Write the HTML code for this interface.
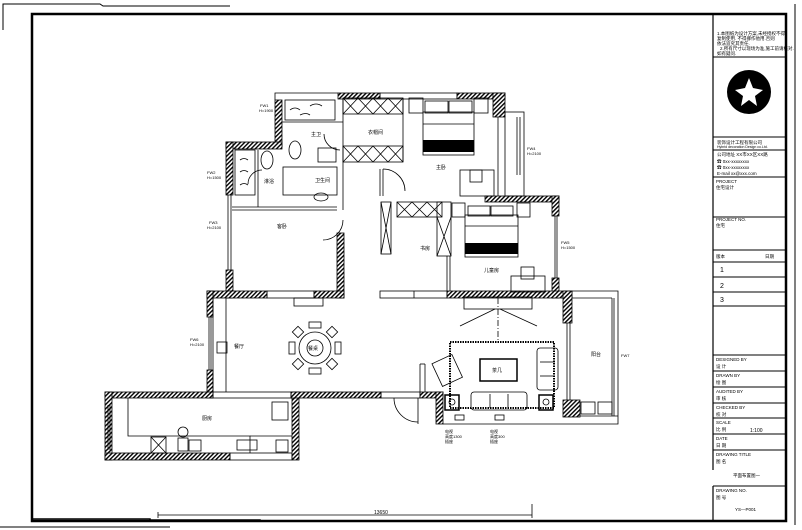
<!DOCTYPE html>
<html><head><meta charset="utf-8"><style>
html,body{margin:0;padding:0;background:#fff;}
svg{display:block}
text{font-family:"Liberation Sans","Noto Sans CJK SC",sans-serif;fill:#000}
</style></head><body>
<svg width="802" height="530" viewBox="0 0 802 530" xmlns="http://www.w3.org/2000/svg">
<defs>
<pattern id="h" width="3" height="3" patternUnits="userSpaceOnUse" patternTransform="rotate(45)">
<rect width="3" height="3" fill="#fff"/><rect width="1.4" height="3" fill="#000"/>
</pattern>
</defs>
<g fill="none" stroke="#000">
<!-- frames -->
<polyline points="3,30 3,4 100,4 103,6 230,6" stroke-width="1"/>
<rect x="32" y="14" width="754" height="507" stroke-width="2.5"/>
<line x1="0" y1="527" x2="170" y2="527" stroke-width="1"/>
<line x1="795" y1="4" x2="795" y2="525" stroke-width="1"/>
<!-- title block -->
<line x1="713" y1="14" x2="713" y2="470" stroke-width="1.2"/>
<line x1="713" y1="486" x2="713" y2="521" stroke-width="1.2"/>
<g stroke-width="1">
<line x1="713" y1="57" x2="786" y2="57"/>
<line x1="713" y1="137" x2="786" y2="137"/>
<line x1="713" y1="150" x2="786" y2="150"/>
<line x1="713" y1="177" x2="786" y2="177"/>
<line x1="713" y1="217" x2="786" y2="217"/>
<line x1="713" y1="250" x2="786" y2="250"/>
<line x1="713" y1="262" x2="786" y2="262"/>
<line x1="713" y1="277" x2="786" y2="277"/>
<line x1="713" y1="292" x2="786" y2="292"/>
<line x1="713" y1="306" x2="786" y2="306"/>
<line x1="713" y1="355" x2="786" y2="355"/>
<line x1="713" y1="371" x2="786" y2="371"/>
<line x1="713" y1="387" x2="786" y2="387"/>
<line x1="713" y1="403" x2="786" y2="403"/>
<line x1="713" y1="418" x2="786" y2="418"/>
<line x1="713" y1="434" x2="786" y2="434"/>
<line x1="713" y1="450" x2="786" y2="450"/>
<line x1="713" y1="486" x2="786" y2="486"/>
</g>
</g>
<!-- logo -->
<circle cx="749" cy="92" r="22" fill="#000"/>
<path d="M749,78 L753,88 L763,90 L755,96 L757,106 L749,100 L741,106 L743,96 L735,90 L745,88 Z" fill="#fff"/>
<g font-size="4.5">
<text x="717" y="35">1.本图纸为设计方案,未经授权不得</text>
<text x="717" y="40">复制使用. 不得挪作他用.否则</text>
<text x="717" y="45">依法追究其责任.</text>
<text x="720" y="50">2.所有尺寸以现场为准,施工前请核对.</text>
<text x="717" y="55">如有疑问.</text>
<text x="717" y="144">装饰设计工程有限公司</text>
<text x="717" y="148" font-size="3.5">Hybrid decoration Design co.Ltd.</text>
<text x="717" y="156">公司地址 XX市XX区XX路</text>
<text x="717" y="163">☎ 0xx-xxxxxxxx</text>
<text x="717" y="169">☎ 0xx-xxxxxxxx</text>
<text x="717" y="175">E-mail xx@xxx.com</text>
<text x="716" y="183">PROJECT</text>
<text x="716" y="189">住宅设计</text>
<text x="716" y="221">PROJECT NO.</text>
<text x="716" y="227">住宅</text>
<text x="716" y="258">版本</text><text x="765" y="258">日期</text>
<text x="716" y="361">DESIGNED BY</text><text x="716" y="368">设 计</text>
<text x="716" y="377">DRAWN BY</text><text x="716" y="384">绘 图</text>
<text x="716" y="393">AUDITED BY</text><text x="716" y="400">审 核</text>
<text x="716" y="409">CHECKED BY</text><text x="716" y="416">校 对</text>
<text x="716" y="424">SCALE</text><text x="716" y="431">比 例</text>
<text x="716" y="440">DATE</text><text x="716" y="447">日 期</text>
<text x="716" y="456">DRAWING TITLE</text><text x="716" y="463">图 名</text>
<text x="733" y="477">平面布置图一</text>
<text x="716" y="492">DRAWING NO.</text><text x="716" y="499">图 号</text>
<text x="735" y="511">YS—P001</text>
</g>
<g font-size="7"><text x="720" y="272">1</text><text x="720" y="288">2</text><text x="720" y="302">3</text></g>
<text x="750" y="432" font-size="5">1:100</text>

<!-- walls (hatched) -->
<g fill="url(#h)" stroke="#000" stroke-width="0.8">
<rect x="338" y="93" width="42" height="6"/>
<rect x="457" y="93" width="48" height="6"/>
<rect x="275" y="100" width="7" height="47"/>
<rect x="493" y="93" width="12" height="24"/>
<rect x="226" y="142" width="56" height="7"/>
<rect x="226" y="142" width="7" height="53"/>
<rect x="226" y="270" width="7" height="28"/>
<rect x="337" y="233" width="7" height="65"/>
<rect x="207" y="291" width="60" height="7"/>
<rect x="314" y="291" width="30" height="7"/>
<rect x="485" y="196" width="74" height="6"/>
<rect x="552" y="196" width="7" height="20"/>
<rect x="552" y="278" width="7" height="20"/>
<rect x="447" y="291" width="125" height="7"/>
<rect x="207" y="291" width="6" height="26"/>
<rect x="207" y="370" width="6" height="28"/>
<rect x="563" y="291" width="9" height="32"/>
<rect x="563" y="400" width="17" height="17"/>
<rect x="105" y="392" width="108" height="6"/>
<rect x="105" y="392" width="7" height="68"/>
<rect x="105" y="453" width="125" height="7"/>
<rect x="292" y="392" width="7" height="68"/>
<rect x="291" y="392" width="90" height="6"/>
<rect x="420" y="392" width="23" height="6"/>
<rect x="436" y="392" width="7" height="32"/>
</g>
<!-- thin outlines -->
<g fill="none" stroke="#000" stroke-width="0.8">
<polyline points="275,100 275,93 338,93"/>
<rect x="380" y="93" width="77" height="6"/>
<rect x="505" y="112" width="19" height="84"/>
<line x1="517" y1="117" x2="517" y2="175"/><line x1="520" y1="117" x2="520" y2="175"/>
<line x1="228" y1="195" x2="228" y2="270"/><line x1="231" y1="195" x2="231" y2="270"/>
<rect x="267" y="291" width="47" height="7"/>
<rect x="380" y="291" width="67" height="7"/>
<line x1="414" y1="291" x2="414" y2="298"/>
<line x1="209" y1="317" x2="209" y2="370"/><line x1="211" y1="317" x2="211" y2="370"/>
<line x1="213" y1="298" x2="213" y2="392"/>
<line x1="226" y1="298" x2="226" y2="392"/>
<rect x="213" y="392" width="78" height="6"/>
<line x1="108" y1="405" x2="108" y2="450"/><line x1="110" y1="405" x2="110" y2="450"/>
<rect x="230" y="453" width="62" height="7"/>
<rect x="381" y="392" width="39" height="6"/>
<polyline points="572,291 618,291 618,424 443,424"/>
<line x1="572" y1="298" x2="612" y2="298"/>
<line x1="612" y1="298" x2="612" y2="416"/><line x1="614" y1="298" x2="614" y2="416"/>
<line x1="580" y1="416" x2="618" y2="416"/>
<line x1="567" y1="323" x2="567" y2="400"/><line x1="570" y1="323" x2="570" y2="400"/>
<rect x="581" y="402" width="14" height="12"/><rect x="598" y="402" width="14" height="12"/>
<line x1="555" y1="216" x2="555" y2="278"/><line x1="557" y1="216" x2="557" y2="278"/>
<line x1="498" y1="117" x2="498" y2="196"/>
<line x1="232" y1="207" x2="337" y2="207"/><line x1="232" y1="210" x2="337" y2="210"/>
<!-- bath top-left -->
<rect x="285" y="100" width="50" height="20"/>
<path d="M290,110 q5,-4 10,0 M310,106 q6,-4 12,0 M300,115 q6,-3 10,0"/>
<line x1="282" y1="122" x2="343" y2="122"/>
<ellipse cx="295" cy="150" rx="6" ry="9"/>
<rect x="318" y="148" width="18" height="14"/>
<line x1="343" y1="99" x2="343" y2="210"/>
<!-- small bath -->
<rect x="235" y="150" width="20" height="45"/>
<path d="M240,160 q4,-3 8,0 M240,172 q4,-3 8,0 M240,185 q4,-3 8,0"/>
<ellipse cx="267" cy="160" rx="6" ry="9"/>
<rect x="283" y="167" width="54" height="28"/>
<ellipse cx="321" cy="197" rx="7" ry="4"/>
<line x1="258" y1="150" x2="258" y2="207"/>
<!-- wardrobe top -->
<rect x="343" y="98" width="60" height="16"/>
<path d="M343,98 l15,16 M358,98 l-15,16 M358,98 l15,16 M373,98 l-15,16 M373,98 l15,16 M388,98 l-15,16 M388,98 l15,16 M403,98 l-15,16"/>
<rect x="343" y="146" width="60" height="16"/>
<path d="M343,146 l15,16 M358,146 l-15,16 M358,146 l15,16 M373,146 l-15,16 M373,146 l15,16 M388,146 l-15,16 M388,146 l15,16 M403,146 l-15,16"/>
<line x1="403" y1="98" x2="403" y2="162"/>
<line x1="380" y1="169" x2="380" y2="196"/><line x1="383" y1="169" x2="383" y2="196"/>
<path d="M383,169 a22,22 0 0 1 22,22"/>
<!-- master bed -->
<rect x="409" y="98" width="14" height="15"/><rect x="474" y="98" width="14" height="15"/>
<rect x="423" y="112" width="51" height="43"/>
<rect x="425" y="101" width="23" height="12"/><rect x="449" y="101" width="23" height="12"/>
<line x1="423" y1="124" x2="474" y2="124"/>
<rect x="460" y="170" width="34" height="26"/><rect x="470" y="170" width="12" height="12"/>
<!-- second room -->
<rect x="381" y="202" width="10" height="52"/>
<path d="M381,202 l10,52 M391,202 l-10,52"/>
<rect x="397" y="202" width="45" height="15"/>
<path d="M397,202 l15,15 M412,202 l-15,15 M412,202 l15,15 M427,202 l-15,15 M427,202 l15,15 M442,202 l-15,15"/>
<rect x="437" y="202" width="14" height="54"/>
<path d="M437,217 l14,39 M451,217 l-14,39"/>
<line x1="447" y1="256" x2="447" y2="291"/><line x1="450" y1="256" x2="450" y2="291"/>
<rect x="452" y="203" width="13" height="14"/><rect x="517" y="203" width="13" height="14"/>
<rect x="465" y="215" width="53" height="42"/>
<rect x="468" y="206" width="22" height="10"/><rect x="491" y="206" width="22" height="10"/>
<line x1="465" y1="226" x2="518" y2="226"/>
<rect x="511" y="276" width="34" height="16"/><rect x="521" y="267" width="13" height="12"/>
<!-- dining -->
<rect x="294" y="298" width="29" height="8"/>
<circle cx="315" cy="348" r="16"/><circle cx="315" cy="348" r="8"/>
<rect x="309" y="322" width="12" height="6"/><rect x="309" y="368" width="12" height="6"/>
<rect x="289" y="342" width="6" height="12"/><rect x="335" y="342" width="6" height="12"/>
<rect x="294" y="328" width="8" height="8" transform="rotate(45 298 332)"/>
<rect x="328" y="328" width="8" height="8" transform="rotate(45 332 332)"/>
<rect x="294" y="360" width="8" height="8" transform="rotate(45 298 364)"/>
<rect x="328" y="360" width="8" height="8" transform="rotate(45 332 364)"/>
<rect x="217" y="342" width="10" height="11"/>
<!-- kitchen -->
<polyline points="128,398 128,436 250,436 250,453"/>
<line x1="250" y1="436" x2="292" y2="436"/>
<rect x="151" y="437" width="15" height="16"/><path d="M151,437 l15,16 M166,437 l-15,16"/>
<rect x="178" y="438" width="10" height="13"/><rect x="189" y="440" width="12" height="11"/>
<circle cx="183" cy="432" r="5"/>
<rect x="237" y="440" width="20" height="10"/>
<rect x="272" y="402" width="16" height="18"/>
<rect x="276" y="440" width="12" height="12"/>
<!-- entrance door -->
<path d="M394,398 a24,24 0 0 0 24,24"/>
<line x1="418" y1="398" x2="418" y2="424"/>
<line x1="420" y1="364" x2="420" y2="392"/><line x1="425" y1="364" x2="425" y2="392"/>
<line x1="420" y1="364" x2="425" y2="364"/>
<!-- living -->
<rect x="464" y="297" width="68" height="12"/>
<line x1="498" y1="298" x2="498" y2="342" stroke-dasharray="6,2,1,2"/>
<path d="M460,326 L495,309 M500,309 L537,326"/>
<rect x="450" y="342" width="104" height="66" stroke-width="2" stroke-dasharray="1.5,1"/>
<rect x="480" y="359" width="37" height="22" stroke-width="1.5"/>
<rect x="471" y="392" width="56" height="18" rx="3"/>
<line x1="490" y1="394" x2="490" y2="408"/><line x1="508" y1="394" x2="508" y2="408"/>
<rect x="537" y="348" width="21" height="42" rx="3"/>
<line x1="540" y1="362" x2="555" y2="362"/><line x1="540" y1="376" x2="555" y2="376"/>
<rect x="436" y="358" width="22" height="25" transform="rotate(-25 447 370)"/>
<rect x="445" y="395" width="14" height="15" stroke-width="1.5"/><circle cx="452" cy="402" r="3"/>
<rect x="539" y="395" width="14" height="15" stroke-width="1.5"/><circle cx="546" cy="402" r="3"/>
<rect x="455" y="415" width="9" height="5"/><rect x="495" y="415" width="9" height="5"/>
<!-- small doors -->
<path d="M343,220 a20,20 0 0 1 -20,20"/>
<path d="M262,170 a14,14 0 0 0 -14,14"/>
<path d="M324,134 a16,16 0 0 0 16,16"/>
<!-- dimension -->
<line x1="158" y1="515" x2="532" y2="515"/>
<line x1="158" y1="512" x2="158" y2="518"/><line x1="532" y1="504" x2="532" y2="518"/>
</g>
<!-- bed bands -->
<rect x="423" y="140" width="51" height="12" fill="#000"/>
<rect x="465" y="243" width="53" height="11" fill="#000"/>
<polyline points="32,519 150,519 150,520 260,520 260,521" fill="none" stroke="#000" stroke-width="1.5"/>
<!-- labels -->
<g font-size="5">
<text x="368" y="134">衣帽间</text>
<text x="436" y="169">主卧</text>
<text x="311" y="136">主卫</text>
<text x="315" y="182">卫生间</text>
<text x="264" y="183">淋浴</text>
<text x="277" y="228">客卧</text>
<text x="420" y="250">书房</text>
<text x="484" y="272">儿童房</text>
<text x="234" y="348">餐厅</text>
<text x="202" y="420">厨房</text>
<text x="591" y="356">阳台</text>
<text x="308" y="350">餐桌</text>
<text x="492" y="372">茶几</text>
<text x="374" y="514">13650</text>
<text x="260" y="107" font-size="4">FW1</text><text x="259" y="112" font-size="4">H=1900</text>
<text x="207" y="174" font-size="4">FW2</text><text x="207" y="179" font-size="4">H=1500</text>
<text x="209" y="224" font-size="4">FW3</text><text x="207" y="229" font-size="4">H=2100</text>
<text x="527" y="150" font-size="4">FW4</text><text x="527" y="155" font-size="4">H=2100</text>
<text x="561" y="244" font-size="4">FW5</text><text x="561" y="249" font-size="4">H=1500</text>
<text x="190" y="341" font-size="4">FW6</text><text x="190" y="346" font-size="4">H=2100</text>
<text x="445" y="433" font-size="4">电视</text><text x="445" y="438" font-size="4">高度1300</text><text x="445" y="443" font-size="4">插座</text>
<text x="490" y="433" font-size="4">电视</text><text x="490" y="438" font-size="4">高度300</text><text x="490" y="443" font-size="4">插座</text>
<text x="621" y="357" font-size="4">FW7</text>
</g>
</svg>
</body></html>
